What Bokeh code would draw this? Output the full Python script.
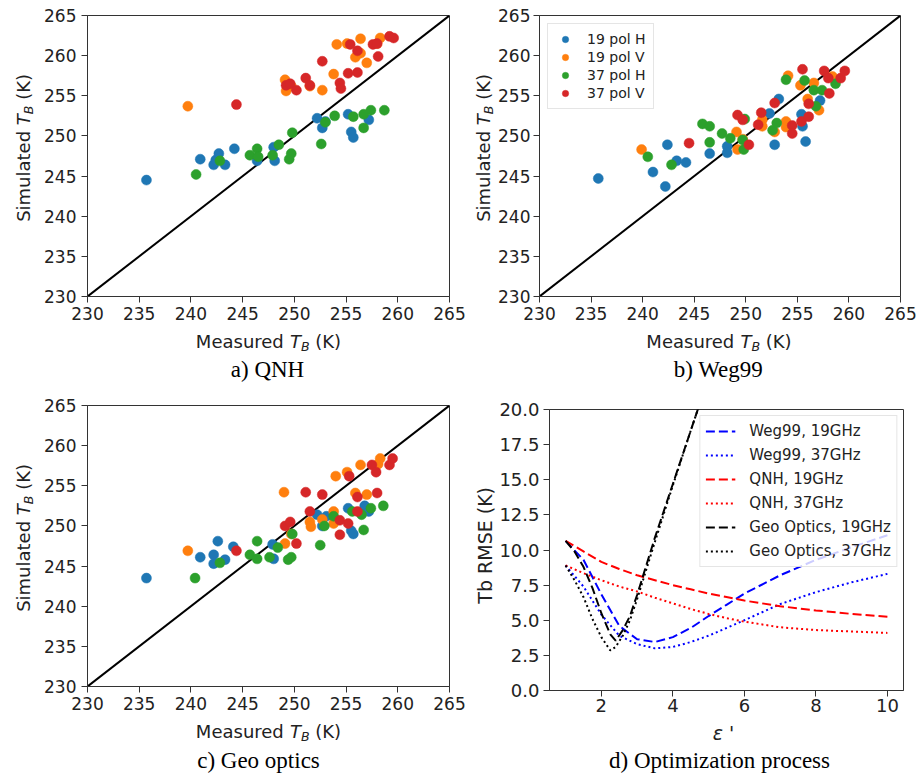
import math
from bokeh.plotting import figure
from bokeh.models import Label, Legend, LegendItem, FixedTicker, Range1d, NumeralTickFormatter
from bokeh.layouts import column, row
from bokeh.embed import file_html
from bokeh.resources import INLINE

# ---------------- data ----------------
series_names = ["19 pol H", "19 pol V", "37 pol H", "37 pol V"]
tb_ticks = [230, 235, 240, 245, 250, 255, 260, 265]

# a) QNH
a_19h_x = [235.7, 240.9, 242.2, 242.4, 242.7, 243.3, 244.2, 246.4, 248.0, 248.1, 252.2, 252.7, 253.0, 255.2, 255.5, 255.7, 257.2]
a_19h_y = [244.5, 247.1, 246.4, 247.0, 247.8, 246.4, 248.4, 246.9, 248.6, 246.9, 252.2, 251.0, 251.8, 252.7, 250.5, 249.8, 252.0]
a_19v_x = [239.7, 249.1, 249.2, 249.7, 251.5, 252.7, 253.8, 254.1, 255.1, 255.9, 256.4, 256.4, 257.0, 258.0, 258.3]
a_19v_y = [253.7, 257.0, 255.6, 256.2, 256.2, 255.7, 257.7, 261.4, 261.5, 259.8, 262.1, 260.3, 259.1, 261.5, 262.2]
a_37h_x = [240.5, 242.8, 245.7, 246.4, 246.5, 247.9, 248.5, 249.5, 249.7, 249.8, 252.6, 253.0, 253.9, 255.7, 256.7, 256.7, 257.4, 258.7]
a_37h_y = [245.2, 246.9, 247.6, 248.4, 247.4, 247.6, 248.9, 247.1, 247.8, 250.4, 249.0, 251.7, 252.5, 252.4, 252.7, 251.0, 253.2, 253.2]
a_37v_x = [244.4, 249.2, 249.6, 250.2, 251.1, 251.5, 252.7, 254.4, 254.5, 255.2, 255.4, 256.1, 256.1, 257.6, 258.0, 258.1, 259.2, 259.6]
a_37v_y = [253.9, 256.3, 256.5, 255.7, 257.2, 256.3, 259.3, 256.6, 255.9, 257.8, 261.4, 257.9, 260.6, 261.4, 261.5, 259.9, 262.4, 262.2]

# b) Weg99
b_19h_x = [235.7, 241.0, 242.2, 242.4, 243.3, 244.2, 246.5, 248.2, 248.2, 252.3, 252.8, 253.2, 255.4, 255.5, 255.8, 257.2]
b_19h_y = [244.7, 245.5, 243.7, 248.9, 246.9, 246.7, 247.8, 248.7, 247.9, 252.8, 248.9, 254.6, 252.7, 251.2, 249.3, 254.4]
b_19v_x = [239.9, 249.1, 249.2, 249.7, 251.6, 251.6, 252.8, 253.9, 253.9, 254.1, 255.3, 256.0, 256.6, 257.1, 258.4]
b_19v_y = [248.3, 250.5, 248.3, 249.6, 252.0, 251.2, 250.5, 251.8, 251.1, 257.5, 256.3, 254.6, 256.6, 253.2, 257.4]
b_37h_x = [240.5, 242.8, 245.8, 246.5, 246.5, 247.7, 248.5, 249.7, 249.8, 249.9, 252.6, 253.0, 253.9, 255.7, 256.6, 256.8, 257.4, 258.7]
b_37h_y = [247.4, 246.4, 251.5, 251.2, 249.2, 250.3, 249.7, 249.5, 248.3, 252.1, 250.7, 251.6, 257.0, 256.9, 255.7, 253.7, 255.7, 256.5]
b_37v_x = [244.5, 249.2, 249.7, 250.3, 251.2, 251.5, 252.8, 254.5, 254.5, 255.4, 255.5, 256.1, 256.1, 257.6, 258.0, 258.1, 259.2, 259.6]
b_37v_y = [249.1, 252.6, 252.0, 248.9, 251.4, 252.9, 254.1, 251.3, 250.3, 251.8, 258.3, 254.0, 252.4, 258.1, 257.2, 255.3, 257.2, 258.1]

# c) Geo optics
c_19h_x = [235.7, 240.9, 242.2, 242.2, 242.6, 243.3, 244.1, 247.9, 248.0, 252.2, 252.7, 253.1, 255.2, 255.5, 255.7, 256.8, 257.2]
c_19h_y = [243.5, 246.1, 245.3, 246.4, 248.1, 245.8, 247.4, 247.7, 245.9, 251.4, 250.0, 251.2, 252.2, 249.4, 249.0, 252.5, 251.8]
c_19v_x = [239.7, 249.0, 249.1, 249.7, 251.5, 251.6, 252.7, 253.8, 253.8, 254.0, 255.1, 255.9, 256.4, 257.0, 258.1, 258.3]
c_19v_y = [246.9, 254.2, 247.8, 249.0, 250.5, 249.9, 250.8, 251.8, 250.3, 256.2, 256.7, 254.1, 257.6, 253.9, 257.7, 258.4]
c_37h_x = [240.4, 242.8, 245.7, 246.4, 246.4, 247.6, 248.4, 249.4, 249.7, 249.8, 252.5, 252.9, 253.8, 255.6, 256.5, 256.7, 257.4, 258.6]
c_37h_y = [243.5, 245.4, 246.4, 248.1, 245.9, 246.1, 247.3, 245.8, 246.1, 249.0, 247.6, 250.0, 251.2, 251.8, 251.4, 249.5, 252.2, 252.5]
c_37v_x = [244.4, 249.1, 249.6, 250.2, 251.1, 251.5, 252.7, 254.4, 254.4, 255.2, 255.3, 256.1, 256.1, 257.5, 257.9, 258.0, 259.2, 259.5]
c_37v_y = [246.9, 250.0, 250.5, 247.8, 254.2, 251.8, 253.9, 250.7, 248.9, 250.3, 256.2, 253.6, 251.8, 257.6, 256.7, 254.1, 257.6, 258.4]

# d) Optimization process
eps = [1.0, 1.5, 2.0, 2.5, 3.0, 3.5, 4.0, 4.5, 5.0, 5.5, 6.0, 7.0, 8.0, 9.0, 10.0]
weg99_19 = [10.65, 9.3, 6.85, 4.6, 3.65, 3.45, 3.8, 4.45, 5.3, 6.1, 6.9, 8.2, 9.3, 10.2, 11.05]
weg99_37 = [8.9, 7.4, 5.4, 3.9, 3.3, 3.0, 3.1, 3.45, 3.9, 4.45, 5.0, 6.15, 7.0, 7.7, 8.3]
qnh_19 = [10.65, 9.9, 9.15, 8.65, 8.2, 7.85, 7.5, 7.2, 6.9, 6.65, 6.4, 6.0, 5.7, 5.45, 5.25]
qnh_37 = [8.9, 8.35, 7.85, 7.4, 7.05, 6.6, 6.2, 5.8, 5.45, 5.15, 4.9, 4.5, 4.3, 4.2, 4.1]
geo_eps = [1.0, 1.25, 1.5, 1.75, 2.0, 2.25, 2.4, 2.6, 2.8, 3.0, 3.5, 4.0, 4.5, 5.0]
geo_19 = [10.65, 9.9, 8.8, 7.3, 5.5, 4.0, 3.55, 4.3, 5.3, 6.8, 10.9, 14.7, 18.5, 22.3]
geo_37 = [8.9, 7.85, 6.65, 5.1, 3.8, 2.85, 3.1, 3.9, 5.0, 6.5, 10.6, 14.6, 18.5, 22.3]
rmse_ticks = [0, 2.5, 5, 7.5, 10, 12.5, 15, 17.5, 20]
eps_ticks = [2, 4, 6, 8, 10]

# ---------------- styling helpers ----------------
COLORS = ["#1f77b4", "#ff7f0e", "#2ca02c", "#d62728"]
SPINE = "#333333"
TXT = "#222222"
SANS = "DejaVu Sans"
SERIF = "Liberation Serif"
CAP_PX = "23px"

CW = {'M': .863, 'e': .615, 'a': .613, 's': .521, 'u': .634, 'r': .411, 'd': .635, 'S': .635,
      'i': .278, 'm': .974, 'l': .278, 't': .392, 'T': .611, 'B': .686, ' ': .318, '(': .390,
      ')': .390, 'K': .656, 'ε': .541, "'": .275}


def tw(s, size):
    return sum(CW.get(c, .6) for c in s) * size


def style(p, tick_px):
    p.xgrid.visible = False
    p.ygrid.visible = False
    p.outline_line_color = SPINE
    p.outline_line_width = 1
    p.background_fill_color = "white"
    p.border_fill_color = "white"
    for ax in (p.xaxis[0], p.yaxis[0]):
        ax.major_tick_out = 6
        ax.major_tick_in = 0
        ax.minor_tick_out = 0
        ax.minor_tick_in = 0
        ax.axis_line_color = SPINE
        ax.major_tick_line_color = SPINE
        ax.major_label_text_font = SANS
        ax.major_label_text_font_size = tick_px
        ax.major_label_text_color = TXT
        ax.major_label_standoff = 4


def strip(w, h):
    s = figure(width=w, height=h, output_backend="svg", toolbar_location=None,
               x_range=Range1d(0, w), y_range=Range1d(0, h),
               x_axis_type=None, y_axis_type=None, min_border=0)
    s.xgrid.visible = False
    s.ygrid.visible = False
    s.outline_line_color = None
    s.background_fill_color = "white"
    s.border_fill_color = "white"
    return s


def _pieces(pieces, size):
    total = sum(tw(t, size * sc) for t, st, sc, d in pieces)
    cum = -total / 2
    out = []
    for t, st, sc, d in pieces:
        fs = size * sc
        lead = len(t) - len(t.lstrip(" "))
        out.append((t.strip(" "), st, fs, d, cum + tw(" " * lead, fs)))
        cum += tw(t, fs)
    return out


def hlabel(s, pieces, cx, cy, size):
    for t, st, fs, d, off in _pieces(pieces, size):
        s.add_layout(Label(x=cx, y=cy, x_offset=off, y_offset=d, text=t,
                           text_align="left", text_baseline="middle",
                           text_font=SANS, text_font_style=st,
                           text_font_size=f"{fs:.1f}px", text_color=TXT))


def vlabel(s, pieces, cx, cy, size):
    for t, st, fs, d, off in _pieces(pieces, size):
        s.add_layout(Label(x=cx, y=cy, x_offset=-d, y_offset=off, text=t,
                           angle=math.pi / 2, text_align="left", text_baseline="middle",
                           text_font=SANS, text_font_style=st,
                           text_font_size=f"{fs:.1f}px", text_color=TXT))


def caption(s, text, cx, cy):
    s.add_layout(Label(x=cx, y=cy, text=text, text_align="center",
                       text_baseline="middle", text_font=SERIF, text_font_size=CAP_PX,
                       text_color="black"))


TB_X = [("Measured ", "normal", 1.0, 0), ("T", "italic", 1.0, 0), ("B", "italic", 0.7, -5), (" (K)", "normal", 1.0, 0)]
TB_Y = [("Simulated ", "normal", 1.0, 0), ("T", "italic", 1.0, 0), ("B", "italic", 0.7, -5), (" (K)", "normal", 1.0, 0)]

FIG_H = 330


def scatter_panel(width, mb_left, mb_right, series, legend=False, ystand=5):
    p = figure(width=width, height=FIG_H, output_backend="svg", toolbar_location=None,
               x_range=Range1d(230, 265), y_range=Range1d(230, 265))
    p.min_border_left = mb_left
    p.min_border_right = mb_right
    p.min_border_top = 15
    p.min_border_bottom = 34
    style(p, "17px")
    p.xaxis.ticker = FixedTicker(ticks=tb_ticks)
    p.yaxis.ticker = FixedTicker(ticks=tb_ticks)
    p.yaxis.major_label_standoff = ystand
    p.line([tb_ticks[0], tb_ticks[-1]], [tb_ticks[0], tb_ticks[-1]], line_color="black", line_width=2)
    items = []
    for (xs, ys), col, name in zip(series, COLORS, series_names):
        r = p.scatter(xs, ys, size=10, fill_color=col, line_color=col, line_width=0.5)
        items.append(LegendItem(label=name, renderers=[r]))
    if legend:
        lg = Legend(items=items, location="top_left", margin=8, padding=7, spacing=2,
                    glyph_height=16, glyph_width=20, label_height=16, label_standoff=12,
                    label_text_font=SANS, label_text_font_size="14px", label_text_color=TXT,
                    border_line_color="#cccccc", background_fill_alpha=0.8)
        p.add_layout(lg)
    return p


# ---- panel a (page x 0-470, y 0-390)
ys_a = strip(36, FIG_H)
vlabel(ys_a, TB_Y, 23, FIG_H - 155.5, 18)
pa = scatter_panel(434, 51, 21, [(a_19h_x, a_19h_y), (a_19v_x, a_19v_y), (a_37h_x, a_37h_y), (a_37v_x, a_37v_y)])
xs_a = strip(470, 60)
hlabel(xs_a, TB_X, 268, 49, 18)
caption(xs_a, "a) QNH", 267, 21)

# ---- panel b (page x 470-920)
ys_b = strip(25, FIG_H)
vlabel(ys_b, TB_Y, 12.5, FIG_H - 155.5, 18)
pb = scatter_panel(425, 42, 20, [(b_19h_x, b_19h_y), (b_19v_x, b_19v_y), (b_37h_x, b_37h_y), (b_37v_x, b_37v_y)],
                   legend=True, ystand=3)
xs_b = strip(450, 60)
hlabel(xs_b, TB_X, 248.5, 49, 18)
caption(xs_b, "b) Weg99", 248, 21)

# ---- panel c (page x 0-470, y 390-783)
ys_c = strip(36, FIG_H)
vlabel(ys_c, TB_Y, 23, FIG_H - 155.5, 18)
pc = scatter_panel(434, 51, 21, [(c_19h_x, c_19h_y), (c_19v_x, c_19v_y), (c_37h_x, c_37h_y), (c_37v_x, c_37v_y)])
xs_c = strip(470, 63)
hlabel(xs_c, TB_X, 268, 52, 18)
caption(xs_c, "c) Geo optics", 258, 23)

# ---- panel d (page x 470-920, y 390-783)
ys_d = strip(26, FIG_H)
ys_d.add_layout(Label(x=14, y=FIG_H - 159.5, text="Tb RMSE (K)", angle=math.pi / 2,
                      text_align="center", text_baseline="middle", text_font=SANS,
                      text_font_size="19px", text_color=TXT))
pd = figure(width=424, height=FIG_H, output_backend="svg", toolbar_location=None,
            x_range=Range1d(0.55, 10.45), y_range=Range1d(0, 20))
pd.min_border_left = 53
pd.min_border_right = 17
pd.min_border_top = 19
pd.min_border_bottom = 30
style(pd, "18px")
pd.xaxis.ticker = FixedTicker(ticks=eps_ticks)
pd.yaxis.ticker = FixedTicker(ticks=rmse_ticks)
pd.yaxis.formatter = NumeralTickFormatter(format="0.0")
pd.xaxis.major_label_standoff = 2

DASH = "9 4"
DOT = "2 3"
r1 = pd.line(eps, weg99_19, line_color="#0000ff", line_width=2, line_dash=DASH)
r2 = pd.line(eps, weg99_37, line_color="#0000ff", line_width=2, line_dash=DOT)
r3 = pd.line(eps, qnh_19, line_color="#ff0000", line_width=2, line_dash=DASH)
r4 = pd.line(eps, qnh_37, line_color="#ff0000", line_width=2, line_dash=DOT)
r5 = pd.line(geo_eps, geo_19, line_color="black", line_width=2, line_dash=DASH)
r6 = pd.line(geo_eps, geo_37, line_color="black", line_width=2, line_dash=DOT)
lg = Legend(items=[LegendItem(label="Weg99, 19GHz", renderers=[r1]),
                   LegendItem(label="Weg99, 37GHz", renderers=[r2]),
                   LegendItem(label="QNH, 19GHz", renderers=[r3]),
                   LegendItem(label="QNH, 37GHz", renderers=[r4]),
                   LegendItem(label="Geo Optics, 19GHz", renderers=[r5]),
                   LegendItem(label="Geo Optics, 37GHz", renderers=[r6])],
            location="top_right", margin=6, padding=5, spacing=4,
            glyph_height=20, glyph_width=30, label_height=20, label_standoff=14,
            label_text_font=SANS, label_text_font_size="15px", label_text_color=TXT,
            border_line_color="#cccccc", background_fill_alpha=0.8)
pd.add_layout(lg)
xs_d = strip(450, 63)
hlabel(xs_d, [("ε", "italic", 1.0, 0), (" '", "normal", 1.0, 0)], 253, 51, 19)
caption(xs_d, "d) Optimization process", 249, 23)

block_a = column(row(ys_a, pa), xs_a)
block_b = column(row(ys_b, pb), xs_b)
block_c = column(row(ys_c, pc), xs_c)
block_d = column(row(ys_d, pd), xs_d)
layout = column(row(block_a, block_b), row(block_c, block_d))
open("out.html", "w").write(file_html(layout, INLINE))
